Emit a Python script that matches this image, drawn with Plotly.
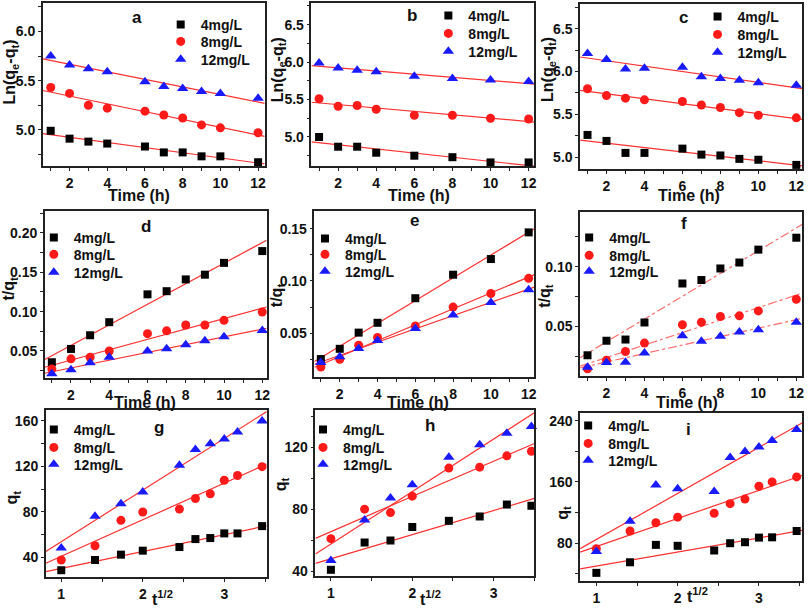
import numpy as np
import plotly.graph_objects as go

# ---------------- data ----------------
t10 = [1, 2, 3, 4, 6, 7, 8, 9, 10, 12]
t8 = [1, 2, 3, 4, 6, 8, 10, 12]
series_names = ["4mg/L", "8mg/L", "12mg/L"]

# (a) pseudo-first-order
a_4 = [4.99, 4.91, 4.88, 4.86, 4.83, 4.77, 4.77, 4.73, 4.73, 4.67]
a_8 = [5.43, 5.37, 5.25, 5.22, 5.19, 5.15, 5.12, 5.05, 5.02, 4.97]
a_12 = [5.75, 5.66, 5.62, 5.59, 5.49, 5.44, 5.42, 5.39, 5.37, 5.32]
# (b)
b_4 = [5.00, 4.87, 4.87, 4.79, 4.75, 4.73, 4.66, 4.66]
b_8 = [5.51, 5.41, 5.42, 5.37, 5.29, 5.29, 5.25, 5.24]
b_12 = [5.99, 5.92, 5.89, 5.87, 5.81, 5.78, 5.76, 5.74]
# (c)
c_4 = [5.26, 5.19, 5.05, 5.05, 5.10, 5.03, 5.02, 4.98, 4.97, 4.91]
c_8 = [5.80, 5.72, 5.69, 5.67, 5.65, 5.61, 5.58, 5.52, 5.49, 5.46]
c_12 = [6.21, 6.14, 6.03, 6.04, 6.05, 5.94, 5.92, 5.90, 5.87, 5.84]
# (d) pseudo-second-order
d_4 = [0.0357, 0.0526, 0.070, 0.0866, 0.122, 0.126, 0.141, 0.147, 0.162, 0.177]
d_8 = [0.027, 0.040, 0.042, 0.050, 0.072, 0.0756, 0.083, 0.083, 0.089, 0.0995]
d_12 = [0.021, 0.026, 0.035, 0.042, 0.050, 0.053, 0.058, 0.063, 0.068, 0.076]
# (e)
e_4 = [0.0253, 0.0351, 0.0506, 0.060, 0.0835, 0.106, 0.121, 0.1465]
e_8 = [0.0177, 0.025, 0.0386, 0.046, 0.057, 0.075, 0.088, 0.1025]
e_12 = [0.022, 0.0275, 0.0355, 0.043, 0.0545, 0.0675, 0.0795, 0.0915]
# (f)
f_4 = [0.0258, 0.038, 0.039, 0.0533, 0.086, 0.0889, 0.0986, 0.1036, 0.1144, 0.1244]
f_8 = [0.0144, 0.0217, 0.029, 0.036, 0.0514, 0.0536, 0.0583, 0.0589, 0.063, 0.0728]
f_12 = [0.0158, 0.0197, 0.020, 0.0278, 0.0422, 0.0375, 0.0417, 0.0453, 0.0472, 0.0536]
# (g) intraparticle diffusion
g_4 = [28.6, 37.6, 42.3, 45.8, 49.0, 56.0, 56.9, 61.0, 61.0, 67.4]
g_8 = [37.6, 50.1, 72.5, 79.8, 82.4, 91.7, 95.8, 107.8, 111.9, 119.7]
g_12 = [48.2, 76.2, 87.2, 97.4, 120.9, 134.8, 139.8, 144.1, 150.3, 160.0]
# (h)
h_4 = [40.9, 58.5, 59.8, 68.5, 72.5, 75.3, 83.0, 82.2]
h_8 = [61.0, 80.0, 77.8, 88.4, 106.5, 107.1, 114.4, 117.4]
h_12 = [46.9, 73.1, 87.3, 95.7, 113.5, 121.5, 129.0, 133.3]
# (i)
i_4 = [41.3, 55.1, 77.8, 76.6, 70.5, 80.0, 81.3, 87.3, 87.7, 95.9]
i_8 = [72.7, 95.9, 106.7, 114.0, 119.1, 131.6, 137.6, 154.4, 160.0, 166.5]
i_12 = [69.2, 108.8, 156.1, 151.0, 147.5, 191.8, 199.6, 205.6, 214.2, 228.4]

panels = [
    # letter, x data, ys, xrange, yrange, dtick_y, minor_y, fmt, ytitle, xtitle, linedash
    ("a", t10, [a_4, a_8, a_12], [0.58, 12.35], [4.63, 6.29], 0.5, 0.25, ".1f", "Ln(q<sub>e</sub>-q<sub>t</sub>)", "Time (h)", "solid"),
    ("b", t8, [b_4, b_8, b_12], [0.6, 12.3], [4.61, 6.79], 0.5, 0.25, ".1f", "Ln(q<sub>e</sub>-q<sub>t</sub>)", "Time (h)", "solid"),
    ("c", t10, [c_4, c_8, c_12], [0.61, 12.3], [4.86, 6.79], 0.5, 0.25, ".1f", "Ln(q<sub>e</sub>-q<sub>t</sub>)", "Time (h)", "solid"),
    ("d", t10, [d_4, d_8, d_12], [0.63, 12.23], [0.0155, 0.228], 0.05, 0.025, ".2f", "t/q<sub>t</sub>", "Time (h)", "solid"),
    ("e", t8, [e_4, e_8, e_12], [0.66, 12.3], [0.008, 0.167], 0.05, 0.025, ".2f", "t/q<sub>t</sub>", "Time (h)", "solid"),
    ("f", t10, [f_4, f_8, f_12], [0.61, 12.3], [0.0083, 0.146], 0.05, 0.025, ".2f", "t/q<sub>t</sub>", "Time (h)", "dashdot"),
    ("g", list(np.sqrt(t10)), [g_4, g_8, g_12], [0.81, 3.52], [22.5, 169.6], 40, 20, "d", "q<sub>t</sub>", "t<sup>1/2</sup>", "solid"),
    ("h", list(np.sqrt(t8)), [h_4, h_8, h_12], [0.81, 3.5], [36.8, 144], 40, 20, "d", "q<sub>t</sub>", "t<sup>1/2</sup>", "solid"),
    ("i", list(np.sqrt(t10)), [i_4, i_8, i_12], [0.8, 3.53], [30.5, 250], 80, 40, "d", "q<sub>t</sub>", "t<sup>1/2</sup>", "solid"),
]

# ---------------- layout geometry (pixels) ----------------
W, H = 808, 611
xpx = [(43, 266), (313, 537), (583, 806),
       (45, 268), (316, 537), (583, 806),
       (46, 268), (317, 537), (583, 806)]
ypx = [(3, 167), (3, 167), (4, 170),
       (212, 380), (212, 379), (213, 378),
       (412, 580), (412, 579), (415, 584)]
letter_px = [(138, 18), (414, 16), (687, 18),
             (147, 228), (417, 222), (687, 225),
             (160, 430), (432, 428), (692, 432)]
# legend: marker centre x, text start x, row centres y
legend_geo = [(187, 197, (25, 42, 60)), (455, 467, (16, 34, 52)), (726, 737, (17, 35, 53)),
              (60, 69, (239, 256, 274)), (332, 342, (240, 256, 273)), (597, 608, (239, 257, 273)),
              (60, 69, (432, 450, 467)), (330, 340, (432, 450, 467)), (596, 607, (428, 446, 463))]
ytitle_px = [(11, 72), (280, 70), (551, 70),
             (10, 290), (279, 297), (548, 297),
             (13, 500), (283, 487), (566, 515)]
xtitle_px = [(140, 196), (421, 196), (692, 196),
             (146, 404), (420, 404), (690, 404),
             (163, 601), (433, 601), (701, 598)]

colors = ["#000000", "#ff1a1a", "#1a1aff"]
symbols = ["square", "circle", "triangle-up"]
sizes = [8, 9, 10]
FONT = "Liberation Sans, Arial, sans-serif"
TXT = "#111111"

fig = go.Figure()
layout = dict(width=W, height=H, margin=dict(l=0, r=0, t=0, b=0),
              paper_bgcolor="white", plot_bgcolor="white", annotations=[])

legend_counter = 0
for k, (letter, xs, ys, xr, yr, dty, mny, fmt, ytitle, xtitle, dash) in enumerate(panels):
    n = k + 1
    sfx = "" if n == 1 else str(n)
    xa, ya = "x" + sfx, "y" + sfx
    xarr = np.array(xs, dtype=float)
    for j in range(3):
        yarr = np.array(ys[j], dtype=float)
        slope, icpt = np.polyfit(xarr, yarr, 1)
        xl = np.array(xr)
        fig.add_trace(go.Scatter(x=xl, y=slope * xl + icpt, mode="lines",
                                 line=dict(color="#ff3030", width=1.2, dash=dash),
                                 opacity=0.7 if dash != "solid" else 1.0,
                                 xaxis=xa, yaxis=ya, showlegend=False,
                                 hoverinfo="skip"))
    mx, tx, rows = legend_geo[k]
    lx = ((mx - 20) + (tx - 41)) / 2.0
    for j in range(3):
        legend_counter += 1
        leg = "legend" if legend_counter == 1 else "legend%d" % legend_counter
        fig.add_trace(go.Scatter(x=xs, y=ys[j], mode="markers", name=series_names[j],
                                 marker=dict(color=colors[j], symbol=symbols[j], size=sizes[j],
                                             line=dict(width=0)),
                                 xaxis=xa, yaxis=ya, legend=leg, showlegend=True,
                                 cliponaxis=False))
        layout[leg] = dict(x=lx / W, y=1 - rows[j] / H, xanchor="left", yanchor="middle",
                           bgcolor="rgba(0,0,0,0)", borderwidth=0, tracegroupgap=0,
                           font=dict(family=FONT, size=14, color=TXT, weight="bold"),
                           itemsizing="trace")
    x0, x1 = xpx[k]
    y0, y1 = ypx[k]
    common = dict(showline=True, linecolor="#222222", linewidth=1.5, mirror=True,
                  ticks="outside", ticklen=3, tickwidth=1.2, tickcolor="#222222",
                  showgrid=False, zeroline=False,
                  tickfont=dict(family=FONT, size=14, color=TXT, weight="bold"))
    if letter in "abcdef":
        xticks = dict(tick0=0, dtick=2, minor=dict(dtick=1, ticklen=3, ticks="outside", tickcolor="#222222"))
    else:
        xticks = dict(tick0=0, dtick=1, minor=dict(dtick=0.5, ticklen=3, ticks="outside", tickcolor="#222222"))
    layout["xaxis" + sfx] = dict(domain=[x0 / W, x1 / W], range=xr, anchor=ya, **xticks, **common)
    layout["yaxis" + sfx] = dict(domain=[1 - y1 / H, 1 - y0 / H], range=yr, anchor=xa,
                                 tick0=0, dtick=dty, tickformat=fmt,
                                 minor=dict(dtick=mny, ticklen=3, ticks="outside", tickcolor="#222222"),
                                 **common)
    px_, py_ = letter_px[k]
    layout["annotations"].append(dict(text=letter, x=px_ / W, y=1 - py_ / H, xref="paper", yref="paper",
                                      showarrow=False, xanchor="center", yanchor="middle",
                                      font=dict(family=FONT, size=17, color=TXT, weight="bold")))
    yx, yy = ytitle_px[k]
    layout["annotations"].append(dict(text=ytitle, x=yx / W, y=1 - yy / H, xref="paper", yref="paper",
                                      showarrow=False, xanchor="center", yanchor="middle", textangle=-90,
                                      font=dict(family=FONT, size=16, color=TXT, weight="bold")))
    xx, xy = xtitle_px[k]
    layout["annotations"].append(dict(text=xtitle, x=xx / W, y=1 - xy / H, xref="paper", yref="paper",
                                      showarrow=False, xanchor="center", yanchor="middle",
                                      font=dict(family=FONT, size=16, color=TXT, weight="bold")))

fig.update_layout(**layout)
fig.write_html("out.html")
